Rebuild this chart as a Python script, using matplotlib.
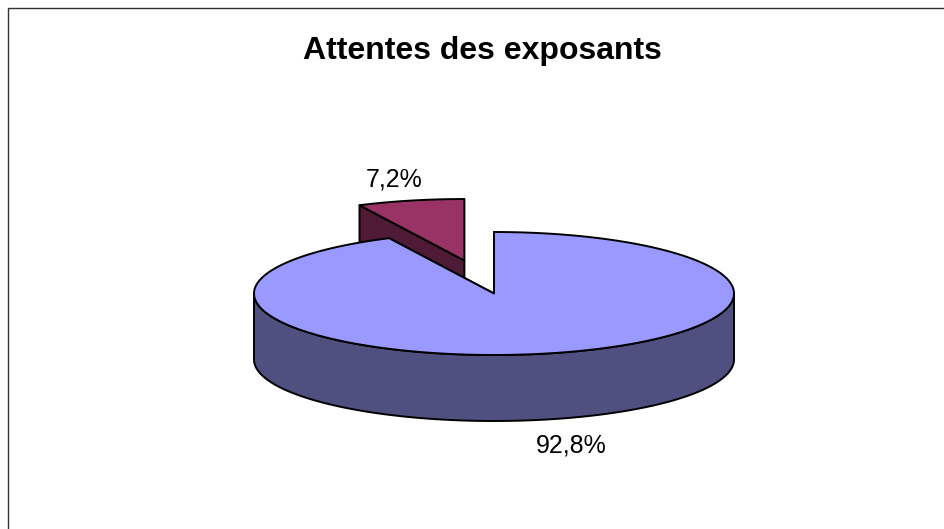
import numpy as np
import matplotlib.pyplot as plt
from matplotlib.patches import Polygon, Rectangle

# donnees du graphique
titre = "Attentes des exposants"
etiquettes = ["7,2%", "92,8%"]
valeurs = [7.2, 92.8]
couleurs_dessus = ["#993366", "#9999FF"]
couleurs_cote = ["#4F1A36", "#4F4F80"]
eclatement = [0.55, 0.0]

# mise en page (pixels)
W, H = 944, 529
cx, cy, rx, ry, prof = 494, 293.5, 240, 61.5, 66
pos_etiq = [(394.5, 187), (571, 452)]

plt.rcParams['font.family'] = ['Liberation Sans', 'DejaVu Sans']

fig = plt.figure(figsize=(W / 100, H / 100), dpi=100)
ax = fig.add_axes([0, 0, 1, 1])
ax.set_xlim(0, W)
ax.set_ylim(H, 0)
ax.axis('off')

ax.add_patch(Rectangle((8, 8), W, H, fill=False, edgecolor='#333333', lw=1.0))


def point(a, ox, oy, dz=0.0):
    r = np.radians(a)
    return (cx + ox + rx * np.cos(r), cy + oy - ry * np.sin(r) + dz)


total = sum(valeurs)
debut = 90.0
tranches = []
for i, v in enumerate(valeurs):
    fin = debut + 360.0 * v / total
    tranches.append((debut, fin, i))
    debut = fin

lw = 1.4
for (a0, a1, i) in tranches:
    mid = np.radians((a0 + a1) / 2)
    ox = eclatement[i] * rx * np.cos(mid)
    oy = -eclatement[i] * ry * np.sin(mid)
    c = (cx + ox, cy + oy)

    # faces radiales
    for a in (a0, a1):
        p = point(a, ox, oy)
        quad = [c, p, (p[0], p[1] + prof), (c[0], c[1] + prof)]
        ax.add_patch(Polygon(quad, closed=True, facecolor=couleurs_cote[i],
                             edgecolor='black', lw=lw, joinstyle='round'))

    # cote avant (180 -> 360)
    for k in range(-1, 3):
        s = max(a0, 180 + 360 * k)
        e = min(a1, 360 + 360 * k)
        if e > s:
            angs = np.linspace(s, e, 200)
            haut = [point(a, ox, oy) for a in angs]
            bas = [point(a, ox, oy, prof) for a in angs[::-1]]
            ax.add_patch(Polygon(haut + bas, closed=True, facecolor=couleurs_cote[i],
                                 edgecolor='black', lw=lw, joinstyle='round'))

    # dessus
    angs = np.linspace(a0, a1, 400)
    dessus = [c] + [point(a, ox, oy) for a in angs]
    ax.add_patch(Polygon(dessus, closed=True, facecolor=couleurs_dessus[i],
                         edgecolor='black', lw=lw, joinstyle='round'))

for (x, y), t in zip(pos_etiq, etiquettes):
    ax.text(x, y, t, ha='center', va='baseline', fontsize=18, color='black')

ax.text(482, 59, titre, ha='center', va='baseline', fontsize=23,
        fontweight='bold', color='black')

fig.savefig('out.png', dpi=100)
